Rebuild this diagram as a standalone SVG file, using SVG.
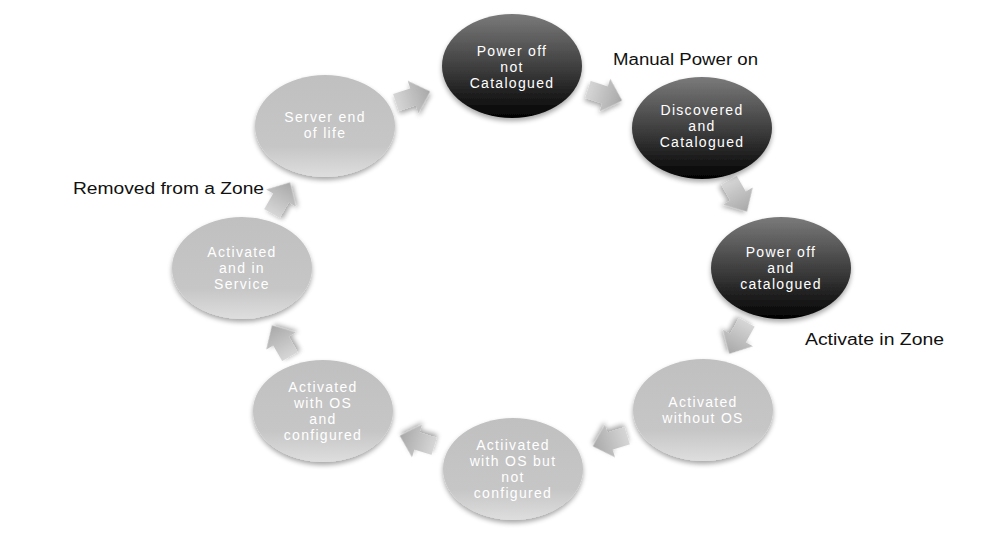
<svg xmlns="http://www.w3.org/2000/svg" width="1004" height="554" viewBox="0 0 1004 554">
<defs>
<linearGradient id="gDark" x1="0" y1="0" x2="0" y2="1">
<stop offset="0" stop-color="#7a7a7a"/>
<stop offset="0.55" stop-color="#3a3a3a"/>
<stop offset="1" stop-color="#020202"/>
</linearGradient>
<linearGradient id="gLight" x1="0" y1="0" x2="0" y2="1">
<stop offset="0" stop-color="#c0c0c0"/>
<stop offset="0.7" stop-color="#c6c6c6"/>
<stop offset="1" stop-color="#dedede"/>
</linearGradient>
<linearGradient id="gArrow" x1="0" y1="0" x2="1" y2="0">
<stop offset="0" stop-color="#d6d6d6"/>
<stop offset="1" stop-color="#a8a8a8"/>
</linearGradient>
<filter id="shadow" x="-20%" y="-20%" width="140%" height="150%">
<feGaussianBlur in="SourceAlpha" stdDeviation="2.5"/>
<feOffset dx="0" dy="3" result="b"/>
<feComponentTransfer><feFuncA type="linear" slope="0.35"/></feComponentTransfer>
<feMerge><feMergeNode/><feMergeNode in="SourceGraphic"/></feMerge>
</filter>
<path id="arr" d="M-18,-9 L0,-9 L0,-17 L18,0 L0,17 L0,9 L-18,9 Z"/>
</defs>
<style>
.dark{fill:url(#gDark);filter:url(#shadow)}
.light{fill:url(#gLight);filter:url(#shadow)}
.nt{font-family:"Liberation Sans",Arial,sans-serif;font-size:14px;fill:#ffffff;text-anchor:middle;letter-spacing:1.3px}
.lbl{font-family:"Liberation Sans",Arial,sans-serif;font-size:16px;fill:#111111}
.a{fill:url(#gArrow);filter:url(#shadow)}
</style>
<rect width="1004" height="554" fill="#ffffff"/>

<g id="connectors">
<use href="#arr" class="a" transform="translate(413,97) rotate(-18)"/>
<use href="#arr" class="a" transform="translate(605,95) rotate(18)"/>
<use href="#arr" class="a" transform="translate(738,196) rotate(60)"/>
<use href="#arr" class="a" transform="translate(738,338) rotate(119)"/>
<use href="#arr" class="a" transform="translate(610,441) rotate(163)"/>
<use href="#arr" class="a" transform="translate(417,441) rotate(197)"/>
<use href="#arr" class="a" transform="translate(281,341) rotate(240)"/>
<use href="#arr" class="a" transform="translate(281,198) rotate(-60)"/>
</g>

<g id="n1">
<ellipse class="dark" cx="512" cy="66" rx="70" ry="52"/>
<text class="nt" x="512" y="56">Power off</text>
<text class="nt" x="512" y="72">not</text>
<text class="nt" x="512" y="88">Catalogued</text>
</g>
<g id="n2">
<ellipse class="dark" cx="702" cy="128" rx="70" ry="51"/>
<text class="nt" x="702" y="115">Discovered</text>
<text class="nt" x="702" y="131">and</text>
<text class="nt" x="702" y="147">Catalogued</text>
</g>
<g id="n3">
<ellipse class="dark" cx="781" cy="268" rx="70" ry="51"/>
<text class="nt" x="781" y="257">Power off</text>
<text class="nt" x="781" y="273">and</text>
<text class="nt" x="781" y="289">catalogued</text>
</g>
<g id="n4">
<ellipse class="light" cx="703" cy="410" rx="70" ry="51"/>
<text class="nt" x="703" y="407">Activated</text>
<text class="nt" x="703" y="423">without OS</text>
</g>
<g id="n5">
<ellipse class="light" cx="513" cy="469" rx="70" ry="51"/>
<text class="nt" x="513" y="450">Actiivated</text>
<text class="nt" x="513" y="466">with OS but</text>
<text class="nt" x="513" y="482">not</text>
<text class="nt" x="513" y="498">configured</text>
</g>
<g id="n6">
<ellipse class="light" cx="323" cy="411" rx="70" ry="51"/>
<text class="nt" x="323" y="392">Activated</text>
<text class="nt" x="323" y="408">with OS</text>
<text class="nt" x="323" y="424">and</text>
<text class="nt" x="323" y="440">configured</text>
</g>
<g id="n7">
<ellipse class="light" cx="242" cy="268" rx="70" ry="51"/>
<text class="nt" x="242" y="257">Activated</text>
<text class="nt" x="242" y="273">and in</text>
<text class="nt" x="242" y="289">Service</text>
</g>
<g id="n8">
<ellipse class="light" cx="325" cy="126" rx="70" ry="51"/>
<text class="nt" x="325" y="122">Server end</text>
<text class="nt" x="325" y="138">of life</text>
</g>

<g id="labels">
<text class="lbl" x="613" y="65" textLength="145" lengthAdjust="spacingAndGlyphs">Manual Power on</text>
<text class="lbl" x="73" y="194" textLength="191" lengthAdjust="spacingAndGlyphs">Removed from a Zone</text>
<text class="lbl" x="805" y="345" textLength="139" lengthAdjust="spacingAndGlyphs">Activate in Zone</text>
</g>
</svg>
